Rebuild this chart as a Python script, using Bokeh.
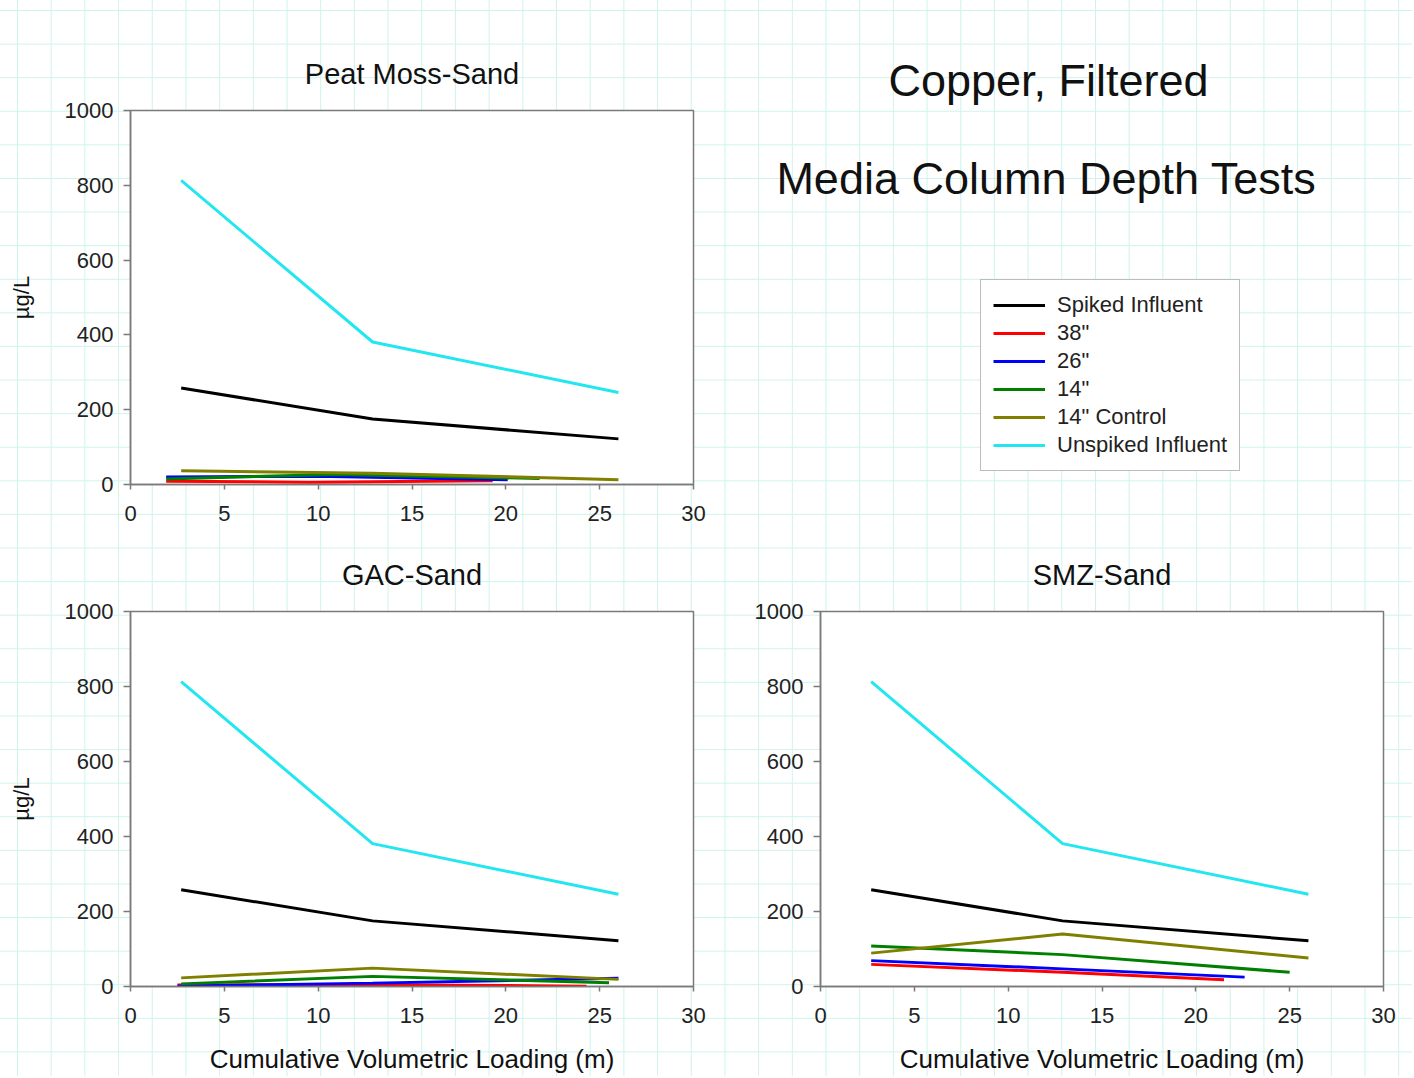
from bokeh.plotting import figure
from bokeh.models import Range1d, FixedTicker, Legend, LegendItem, Label
from bokeh.layouts import row, column
from bokeh.embed import file_html
from bokeh.resources import INLINE

FONT = "Liberation Sans"

# ---------------- data ----------------
series_names = ["Spiked Influent", '38"', '26"', '14"', '14" Control', "Unspiked Influent"]
series_colors = ["#000000", "#ff0000", "#0000ff", "#008000", "#808000", "#22e6f0"]
x_ticks = [0, 5, 10, 15, 20, 25, 30]
y_ticks = [0, 200, 400, 600, 800, 1000]

influent_x = [2.7, 12.9, 26.0]
spiked_y = [258, 175, 122]
unspiked_y = [813, 381, 246]

# Peat Moss-Sand
peat_38_x = [1.9, 9.5, 19.3]
peat_38_y = [9, 6, 10]
peat_26_x = [1.9, 10.0, 20.1]
peat_26_y = [20, 22, 13]
peat_14_x = [1.9, 11.0, 21.8]
peat_14_y = [15, 27, 16]
peat_ctl_x = [2.7, 12.9, 26.0]
peat_ctl_y = [37, 30, 13]

# GAC-Sand
gac_38_x = [2.5, 12.9, 24.3]
gac_38_y = [4, 5, 1]
gac_26_x = [2.5, 12.9, 26.0]
gac_26_y = [1, 9, 22]
gac_14_x = [2.7, 12.9, 25.5]
gac_14_y = [7, 27, 10]
gac_ctl_x = [2.7, 12.9, 26.0]
gac_ctl_y = [23, 49, 19]

# SMZ-Sand
smz_38_x = [2.7, 12.9, 21.5]
smz_38_y = [59, 38, 18]
smz_26_x = [2.7, 12.9, 22.6]
smz_26_y = [69, 47, 25]
smz_14_x = [2.7, 12.9, 25.0]
smz_14_y = [108, 85, 38]
smz_ctl_x = [2.7, 12.9, 26.0]
smz_ctl_y = [89, 140, 76]

panel_titles = ["Peat Moss-Sand", "GAC-Sand", "SMZ-Sand"]
y_label = "µg/L"
x_label = "Cumulative Volumetric Loading (m)"
main_title_1 = "Copper, Filtered"
main_title_2 = "Media Column Depth Tests"

AXIS_COLOR = "#7a7a7a"


def panel_series(s38, s26, s14, ctl):
    return [
        (influent_x, spiked_y),
        s38, s26, s14, ctl,
        (influent_x, unspiked_y),
    ]


def make_panel(title, series, ylab, xlab, bl, br, bt, bb, fh):
    p = figure(frame_width=563, frame_height=fh,
               min_border_left=bl, min_border_right=br,
               min_border_top=bt, min_border_bottom=bb,
               x_range=Range1d(0, 30), y_range=Range1d(0, 1000),
               output_backend="svg", toolbar_location=None, title=title)
    p.title.align = "center"
    p.title.text_font = FONT
    p.title.text_font_size = "29px"
    p.title.text_font_style = "normal"
    p.title.text_color = "#111111"
    p.title.standoff = 41
    p.background_fill_color = "white"
    p.border_fill_color = None
    p.outline_line_color = AXIS_COLOR
    p.outline_line_width = 1.5
    p.xgrid.visible = False
    p.ygrid.visible = False
    p.xaxis.ticker = FixedTicker(ticks=x_ticks)
    p.yaxis.ticker = FixedTicker(ticks=y_ticks)
    for ax in (p.xaxis[0], p.yaxis[0]):
        ax.axis_line_color = AXIS_COLOR
        ax.axis_line_width = 1.5
        ax.major_tick_line_color = AXIS_COLOR
        ax.major_tick_line_width = 1.5
        ax.major_tick_in = 0
        ax.minor_tick_line_color = None
        ax.major_label_text_font = FONT
        ax.major_label_text_font_size = "22px"
        ax.major_label_text_color = "#222222"
        ax.axis_label_text_font = FONT
        ax.axis_label_text_font_style = "normal"
        ax.axis_label_text_color = "#111111"
    p.xaxis.major_tick_out = 5
    p.yaxis.major_tick_out = 7
    p.xaxis.major_label_standoff = 16
    p.yaxis.major_label_standoff = 10
    if ylab:
        p.yaxis.axis_label = ylab
        p.yaxis.axis_label_text_font_size = "22px"
        p.yaxis.axis_label_standoff = 28
    if xlab:
        p.xaxis.axis_label = xlab
        p.xaxis.axis_label_text_font_size = "26px"
        p.xaxis.axis_label_standoff = 18
    for (xs, ys), color in zip(series, series_colors):
        p.line(xs, ys, line_color=color, line_width=3)
    return p


p1 = make_panel(panel_titles[0],
                panel_series((peat_38_x, peat_38_y), (peat_26_x, peat_26_y),
                             (peat_14_x, peat_14_y), (peat_ctl_x, peat_ctl_y)),
                y_label, None, 130, 55, 110, 50, 374)
p2 = make_panel(panel_titles[1],
                panel_series((gac_38_x, gac_38_y), (gac_26_x, gac_26_y),
                             (gac_14_x, gac_14_y), (gac_ctl_x, gac_ctl_y)),
                y_label, x_label, 130, 55, 77, 90, 375)
p3 = make_panel(panel_titles[2],
                panel_series((smz_38_x, smz_38_y), (smz_26_x, smz_26_y),
                             (smz_14_x, smz_14_y), (smz_ctl_x, smz_ctl_y)),
                None, x_label, 72, 29, 77, 90, 375)

# title + legend area: frame geometry mirrors p1 (row keeps frames aligned);
# ranges chosen so that one data unit equals one page pixel
p0 = figure(frame_width=600, frame_height=374,
            min_border_left=0, min_border_right=64,
            min_border_top=110, min_border_bottom=50,
            x_range=Range1d(748, 1348), y_range=Range1d(484, 110),
            x_axis_location=None, y_axis_location=None,
            output_backend="svg", toolbar_location=None, title=main_title_1)
p0.title.align = "center"
p0.title.text_font = FONT
p0.title.text_font_size = "45px"
p0.title.text_font_style = "normal"
p0.title.text_color = "#111111"
p0.title.standoff = 10
p0.outline_line_color = None
p0.background_fill_color = None
p0.border_fill_color = None
p0.xgrid.visible = False
p0.ygrid.visible = False
p0.add_layout(Label(x=1046, y=178, text=main_title_2, text_align="center",
                    text_baseline="alphabetic", text_font=FONT,
                    text_font_size="45px", text_color="#111111"))
items = []
for name, color in zip(series_names, series_colors):
    r = p0.line(x=[float("nan")], y=[float("nan")], line_color=color, line_width=3)
    items.append(LegendItem(label=name, renderers=[r]))
legend = Legend(items=items, location=(232, 13),
                label_text_font=FONT, label_text_font_size="22px",
                label_text_color="#222222",
                glyph_width=52, glyph_height=24, label_height=24,
                label_standoff=12, spacing=2, padding=12, margin=0,
                border_line_color=AXIS_COLOR, border_line_width=1.5,
                background_fill_color="white", background_fill_alpha=1.0)
p0.add_layout(legend)

grid_css = {
    "background-color": "white",
    "background-image": ("linear-gradient(to right, #cff3ec 1px, transparent 1px), "
                         "linear-gradient(to bottom, #cff3ec 1px, transparent 1px)"),
    "background-size": "33.7px 33.6px",
    "background-position": "17px 10px",
}
page = column(row(p1, p0), row(p2, p3), styles=grid_css)

open("out.html", "w").write(file_html(page, INLINE, title="Copper, Filtered"))
